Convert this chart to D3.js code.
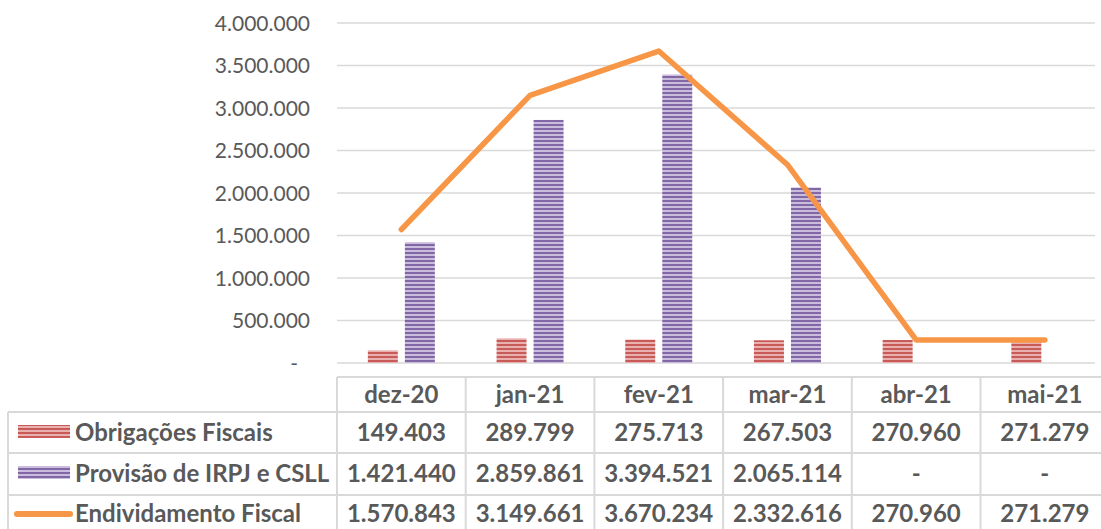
<!DOCTYPE html>
<html><head><meta charset="utf-8">
<script src="https://cdn.jsdelivr.net/npm/d3@7"></script>
<style>
html,body{margin:0;padding:0;background:#fff;}
svg{display:block;font-family:Lato, "Open Sans", sans-serif;}
</style></head>
<body>
<svg id="c" width="1101" height="529"></svg>
<script>
const categories = ["dez-20","jan-21","fev-21","mar-21","abr-21","mai-21"];
const obrigacoes = [149403, 289799, 275713, 267503, 270960, 271279];
const provisao = [1421440, 2859861, 3394521, 2065114, null, null];
const endividamento = [1570843, 3149661, 3670234, 2332616, 270960, 271279];
const seriesNames = ["Obrigações Fiscais","Provisão de IRPJ e CSLL","Endividamento Fiscal"];
const yTicks = [0,500000,1000000,1500000,2000000,2500000,3000000,3500000,4000000];

const svg = d3.select("#c");
const colW = 128.7, x0 = 337;
const x = d3.scaleBand().domain(categories).range([x0, x0 + colW*categories.length]);
const y = d3.scaleLinear().domain([0, 4000000]).range([363, 23]);
const barSeries = [seriesNames[0], seriesNames[1]];
const x1 = d3.scaleBand().domain(barSeries).range([-33.5, 33.5]).paddingInner(0.19);
const loc = d3.formatLocale({decimal:",", thousands:".", grouping:[3], currency:["R$",""]});
const fmt = loc.format(",d");
const gray = "#595959", grid = "#D9D9D9";

// patterns
const defs = svg.append("defs");
function stripe(id, dark, light){
  const p = defs.append("pattern").attr("id", id).attr("patternUnits","userSpaceOnUse")
    .attr("width", 8).attr("height", 4);
  p.append("rect").attr("width",8).attr("height",4).attr("fill", light);
  p.append("rect").attr("width",8).attr("height",2).attr("fill", dark);
}
stripe("pRed", "#C85B58", "#E8B0AE");
stripe("pPur", "#8267A6", "#C9BCDC");
const fills = {[seriesNames[0]]:"url(#pRed)", [seriesNames[1]]:"url(#pPur)"};

// gridlines
svg.append("g").selectAll("line").data(yTicks).join("line")
  .attr("x1", x0).attr("x2", 1095).attr("y1", d=>y(d)).attr("y2", d=>y(d))
  .attr("stroke", grid).attr("stroke-width", 1.5);

// y axis labels
const yAxis = d3.axisLeft(y).tickValues(yTicks).tickSize(0).tickPadding(0)
  .tickFormat(d => d === 0 ? "-" : fmt(d));
const ya = svg.append("g").attr("transform","translate(310,0)").call(yAxis);
ya.select(".domain").remove();
ya.selectAll("text").attr("fill", gray).style("font-size","21px").style("font-family","Lato, sans-serif")
  .attr("dy","0.35em")
  .attr("dx", d => d === 0 ? -12 : 0);

// bars
const barData = [];
categories.forEach((c,i)=>{
  barData.push({c, s: seriesNames[0], v: obrigacoes[i]});
  if (provisao[i] != null) barData.push({c, s: seriesNames[1], v: provisao[i]});
});
svg.append("g").selectAll("rect").data(barData).join("rect")
  .attr("x", d => x(d.c) + x.bandwidth()/2 + x1(d.s))
  .attr("width", x1.bandwidth())
  .attr("y", d => y(d.v))
  .attr("height", d => y(0) - y(d.v))
  .attr("fill", d => fills[d.s]);

// line
const line = d3.line().x((d,i)=> x(categories[i]) + x.bandwidth()/2).y(d => y(d));
svg.append("path").datum(endividamento).attr("d", line)
  .attr("fill","none").attr("stroke","#F79646").attr("stroke-width",5.5)
  .attr("stroke-linecap","round").attr("stroke-linejoin","round");

// table
const rowY = [377, 412, 453, 495, 540];
const tg = svg.append("g");
const xEnd = x0 + colW*categories.length;
tg.append("line").attr("x1", x0).attr("x2", xEnd).attr("y1", rowY[0]).attr("y2", rowY[0]);
[1,2,3].forEach(r => tg.append("line").attr("x1", 8).attr("x2", xEnd).attr("y1", rowY[r]).attr("y2", rowY[r]));
tg.append("line").attr("x1", 8).attr("x2", 8).attr("y1", rowY[1]).attr("y2", 540);
categories.forEach((c,i)=> tg.append("line").attr("x1", x(c)).attr("x2", x(c)).attr("y1", rowY[0]).attr("y2", 540));
tg.selectAll("line").attr("stroke", grid).attr("stroke-width", 2);

const tfont = {"font-size":"24px","font-weight":700,"fill":gray};
function txt(sel){ Object.entries(tfont).forEach(([k,v])=> sel.style(k,v)); return sel; }

// header
txt(svg.append("g").selectAll("text").data(categories).join("text")
  .attr("x", d => x(d) + x.bandwidth()/2).attr("y", (rowY[0]+rowY[1])/2).attr("dy","0.35em")
  .attr("text-anchor","middle").text(d=>d));

const rows = [obrigacoes, provisao, endividamento];
rows.forEach((vals, r) => {
  const cy = r < 2 ? (rowY[r+1]+rowY[r+2])/2 : 514;
  txt(svg.append("g").selectAll("text").data(vals).join("text")
    .attr("x", (d,i) => x(categories[i]) + x.bandwidth()/2).attr("y", cy).attr("dy","0.35em")
    .attr("text-anchor","middle").text(d => d == null ? "-" : fmt(d)));
  txt(svg.append("text").attr("x", 75).attr("y", cy).attr("dy","0.35em").text(seriesNames[r]));
});
// legend keys
svg.append("rect").attr("x",18).attr("y",425).attr("width",52).attr("height",13).attr("fill","url(#pRed)");
svg.append("rect").attr("x",18).attr("y",466).attr("width",52).attr("height",13).attr("fill","url(#pPur)");
svg.append("line").attr("x1",17).attr("x2",70).attr("y1",514).attr("y2",514)
  .attr("stroke","#F79646").attr("stroke-width",6).attr("stroke-linecap","round");
</script>
</body></html>
